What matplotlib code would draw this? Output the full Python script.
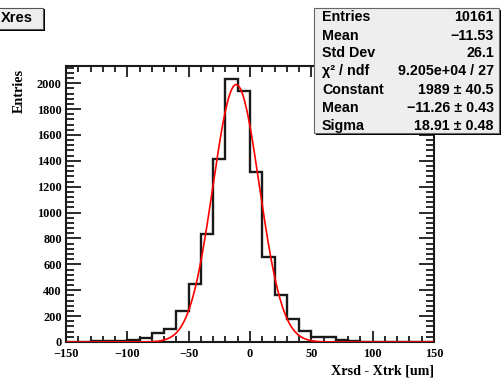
import numpy as np
import matplotlib
matplotlib.use("Agg")
import matplotlib.pyplot as plt
from matplotlib.patches import Rectangle
from matplotlib.ticker import MultipleLocator

# Residual histogram: 30 bins of 10 um between -150 and 150
bin_edges = np.arange(-150, 151, 10)
counts = [2, 3, 4, 6, 8, 15, 30, 72, 100, 238,
          447, 837, 1416, 2031, 1936, 1313, 657, 364, 176, 88,
          38, 36, 12, 5, 3, 2, 2, 1, 1, 1]

# Gaussian fit parameters
fit_constant = 1989.0
fit_mean = -11.26
fit_sigma = 18.91

stat_labels = ["Entries", "Mean", "Std Dev", "\u03c7\u00b2 / ndf", "Constant", "Mean", "Sigma"]
stat_values = ["10161", "\u221211.53", "26.1", "9.205e+04 / 27",
               "1989 \u00b1 40.5", "\u221211.26 \u00b1 0.43", "18.91 \u00b1 0.48"]

hist_title = "Xres"
x_title = "Xrsd - Xtrk [um]"
y_title = "Entries"

W, H = 502, 381
fig = plt.figure(figsize=(W / 100, H / 100), dpi=100)
fig.patch.set_facecolor("white")


def fx(px):
    return px / W


def fy(py):
    return 1 - py / H


serif = "Liberation Serif"
sans = "Liberation Sans"

# Frame of the plot area in pixels
left, right, top, bottom = 66, 434, 66, 342
ax = fig.add_axes([fx(left), fy(bottom), fx(right) - fx(left), fy(top) - fy(bottom)])

ax.stairs(counts, bin_edges, color="#1a1a1a", lw=1.7, zorder=3)

xs = np.linspace(-150, 150, 1200)
ax.plot(xs, fit_constant * np.exp(-0.5 * ((xs - fit_mean) / fit_sigma) ** 2),
        color="#ff0000", lw=1.2, zorder=4)

ax.set_xlim(-150, 150)
ax.set_ylim(0, 1.05 * max(counts))

ax.xaxis.set_major_locator(MultipleLocator(50))
ax.xaxis.set_minor_locator(MultipleLocator(10))
ax.yaxis.set_major_locator(MultipleLocator(200))
ax.yaxis.set_minor_locator(MultipleLocator(40))

ax.tick_params(axis="both", which="both", direction="in", top=True, right=True,
               width=1.3, color="#1a1a1a")
ax.tick_params(axis="x", which="major", length=8, pad=4.5)
ax.tick_params(axis="x", which="minor", length=4)
ax.tick_params(axis="y", which="major", length=11, pad=3)
ax.tick_params(axis="y", which="minor", length=6)

for lab in ax.get_xticklabels() + ax.get_yticklabels():
    lab.set_fontfamily(serif)
    lab.set_fontweight("bold")
    lab.set_fontsize(8.8)

for sp in ax.spines.values():
    sp.set_linewidth(1.5)
    sp.set_color("#1a1a1a")

# Axis titles
fig.text(fx(434), fy(371), x_title, ha="right", va="center",
         fontfamily=serif, fontweight="bold", fontsize=10.2)
fig.text(fx(19), fy(69), y_title, ha="center", va="top", rotation=90,
         fontfamily=serif, fontweight="bold", fontsize=10.2)

# Title box with drop shadow
fig.patches.append(Rectangle((fx(-2), fy(31)), fx(47), fy(9) - fy(31),
                             transform=fig.transFigure, facecolor="black",
                             edgecolor="none", zorder=10))
fig.patches.append(Rectangle((fx(-2), fy(29)), fx(45), fy(8) - fy(29),
                             transform=fig.transFigure, facecolor="#eeeeee",
                             edgecolor="#555555", lw=0.8, zorder=11))
fig.text(fx(1), fy(18.5), hist_title, ha="left", va="center", fontfamily=sans,
         fontweight="bold", fontsize=10.5, zorder=12)

# Statistics box with drop shadow
bx0, bx1, by0, by1 = 314, 499, 8, 133
fig.patches.append(Rectangle((fx(bx0 + 2), fy(by1 + 2)), fx(bx1 - bx0), fy(by0 + 2) - fy(by1 + 2),
                             transform=fig.transFigure, facecolor="black",
                             edgecolor="none", zorder=10))
fig.patches.append(Rectangle((fx(bx0), fy(by1)), fx(bx1 - bx0), fy(by0) - fy(by1),
                             transform=fig.transFigure, facecolor="#eeeeee",
                             edgecolor="#666666", lw=0.8, zorder=11))
row_y = [17, 36, 53, 71, 90, 108, 126]
for yy, lab, val in zip(row_y, stat_labels, stat_values):
    fig.text(fx(322), fy(yy), lab, ha="left", va="center", fontfamily=sans,
             fontweight="bold", fontsize=10.3, zorder=12)
    fig.text(fx(494), fy(yy), val, ha="right", va="center", fontfamily=sans,
             fontweight="bold", fontsize=10.3, zorder=12)

fig.savefig("out.png", dpi=100)
